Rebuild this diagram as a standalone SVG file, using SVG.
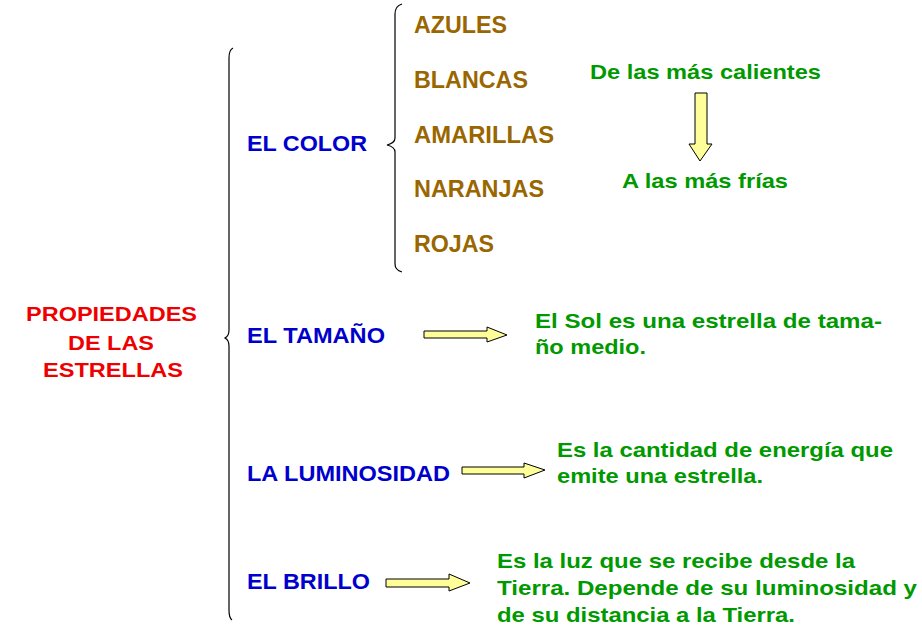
<svg xmlns="http://www.w3.org/2000/svg" width="922" height="640" viewBox="0 0 922 640">
<style>
text{font-family:"Liberation Sans",Arial,sans-serif;font-weight:bold;}
.red{fill:#ee0000;font-size:21px;}
.blue{fill:#0000cc;font-size:22px;}
.brown{fill:#996600;font-size:23px;}
.green{fill:#009900;font-size:21px;}
.brace{fill:none;stroke:#000;stroke-width:1.2;}
.arrow{fill:#ffff99;stroke:#000;stroke-width:1;}
</style>
<rect width="922" height="640" fill="#fff"/>
<g id="root">
<text class="red" x="26" y="321" textLength="171" lengthAdjust="spacingAndGlyphs">PROPIEDADES</text>
<text class="red" x="68" y="350" textLength="86" lengthAdjust="spacingAndGlyphs">DE LAS</text>
<text class="red" x="43" y="377" textLength="140" lengthAdjust="spacingAndGlyphs">ESTRELLAS</text>
</g>
<g id="connectors">
<path class="brace" d="M233,48 Q229,50 229,58 L229,330 Q229,336 225,338 Q229,340 229,346 L229,610 Q229,618 232,620"/>
<path class="brace" d="M402,4 Q395,6 395,14 L395,138 Q395,143 387,145 Q395,147 395,152 L395,264 Q395,270 402,272"/>
<polygon class="arrow" points="695,93 707,93 707,144 712,144 700,161 689,144 695,144"/>
<polygon class="arrow" points="424,331 487,331 487,327 507,335 487,342 487,338 424,338"/>
<polygon class="arrow" points="462,467 524,467 524,463 545,470 524,478 524,474 462,474"/>
<polygon class="arrow" points="386,579 449,579 449,574 470,583 449,591 449,587 386,587"/>
</g>
<g id="color">
<text class="blue" x="247" y="151" textLength="120" lengthAdjust="spacingAndGlyphs">EL COLOR</text>
</g>
<g id="azules"><text class="brown" x="414" y="33" textLength="93" lengthAdjust="spacingAndGlyphs">AZULES</text></g>
<g id="blancas"><text class="brown" x="414" y="88" textLength="114" lengthAdjust="spacingAndGlyphs">BLANCAS</text></g>
<g id="amarillas"><text class="brown" x="414" y="143" textLength="140" lengthAdjust="spacingAndGlyphs">AMARILLAS</text></g>
<g id="naranjas"><text class="brown" x="414" y="197" textLength="130" lengthAdjust="spacingAndGlyphs">NARANJAS</text></g>
<g id="rojas"><text class="brown" x="414" y="252" textLength="80" lengthAdjust="spacingAndGlyphs">ROJAS</text></g>
<g id="calientes"><text class="green" x="590" y="79" textLength="231" lengthAdjust="spacingAndGlyphs">De las más calientes</text></g>
<g id="frias"><text class="green" x="622" y="188" textLength="166" lengthAdjust="spacingAndGlyphs">A las más frías</text></g>
<g id="tamano">
<text class="blue" x="247" y="343" textLength="138" lengthAdjust="spacingAndGlyphs">EL TAMAÑO</text>
</g>
<g id="tamano-desc">
<text class="green" x="535" y="328" textLength="347" lengthAdjust="spacingAndGlyphs">El Sol es una estrella de tama-</text>
<text class="green" x="535" y="354" textLength="111" lengthAdjust="spacingAndGlyphs">ño medio.</text>
</g>
<g id="luminosidad">
<text class="blue" x="247" y="481" textLength="203" lengthAdjust="spacingAndGlyphs">LA LUMINOSIDAD</text>
</g>
<g id="luminosidad-desc">
<text class="green" x="557" y="457" textLength="336" lengthAdjust="spacingAndGlyphs">Es la cantidad de energía que</text>
<text class="green" x="557" y="483" textLength="206" lengthAdjust="spacingAndGlyphs">emite una estrella.</text>
</g>
<g id="brillo">
<text class="blue" x="247" y="589" textLength="123" lengthAdjust="spacingAndGlyphs">EL BRILLO</text>
</g>
<g id="brillo-desc">
<text class="green" x="497" y="568" textLength="358" lengthAdjust="spacingAndGlyphs">Es la luz que se recibe desde la</text>
<text class="green" x="497" y="595" textLength="420" lengthAdjust="spacingAndGlyphs">Tierra. Depende de su luminosidad y</text>
<text class="green" x="497" y="622" textLength="298" lengthAdjust="spacingAndGlyphs">de su distancia a la Tierra.</text>
</g>
</svg>
